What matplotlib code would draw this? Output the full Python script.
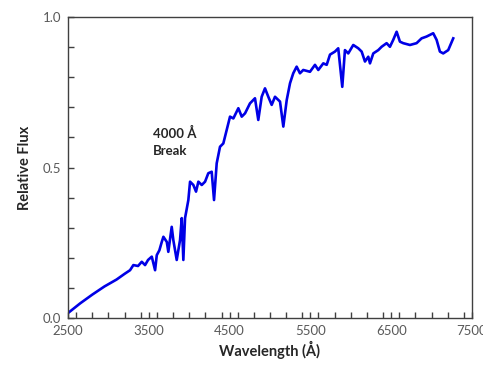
import matplotlib
matplotlib.use('Agg')
from matplotlib import pyplot as plt
from matplotlib.ticker import MultipleLocator

# spectrum (wavelength in Angstrom, relative flux)
wavelength = [2500, 2650, 2800, 2950, 3100, 3200, 3267, 3308, 3366, 3412,
              3453, 3490, 3536, 3577, 3598, 3630, 3660, 3680, 3722, 3741,
              3783, 3803, 3845, 3886, 3907, 3927, 3948, 3989, 4010, 4051,
              4084, 4113, 4155, 4196, 4236, 4278, 4307, 4340, 4381, 4422,
              4464, 4505, 4546, 4608, 4650, 4691, 4752, 4814, 4855, 4897,
              4938, 4979, 5021, 5062, 5124, 5165, 5207, 5248, 5288, 5330,
              5371, 5412, 5495, 5557, 5598, 5660, 5702, 5743, 5804, 5845,
              5895, 5928, 5969, 6031, 6093, 6135, 6176, 6217, 6238, 6279,
              6341, 6382, 6444, 6485, 6526, 6568, 6609, 6650, 6733, 6815,
              6877, 6939, 7021, 7063, 7104, 7145, 7207, 7269]
flux = [0.017, 0.049, 0.078, 0.105, 0.128, 0.147, 0.159, 0.176, 0.173, 0.187,
        0.176, 0.193, 0.204, 0.159, 0.209, 0.225, 0.253, 0.270, 0.253, 0.220,
        0.303, 0.259, 0.193, 0.259, 0.332, 0.193, 0.332, 0.392, 0.453, 0.442,
        0.420, 0.453, 0.442, 0.453, 0.481, 0.486, 0.392, 0.514, 0.569, 0.580,
        0.625, 0.669, 0.663, 0.697, 0.669, 0.680, 0.713, 0.730, 0.658, 0.735,
        0.763, 0.735, 0.708, 0.735, 0.719, 0.636, 0.724, 0.780, 0.813, 0.835,
        0.813, 0.824, 0.818, 0.841, 0.824, 0.846, 0.841, 0.875, 0.885, 0.896,
        0.768, 0.890, 0.879, 0.907, 0.896, 0.885, 0.852, 0.868, 0.846, 0.879,
        0.890, 0.901, 0.913, 0.901, 0.924, 0.951, 0.918, 0.913, 0.907, 0.913,
        0.929, 0.935, 0.946, 0.924, 0.885, 0.879, 0.890, 0.929]

x_ticks = [2500, 3500, 4500, 5500, 6500, 7500]
y_ticks = [0.0, 0.5, 1.0]

plt.rcParams['font.family'] = ['Lato', 'DejaVu Sans']

fig = plt.figure(figsize=(4.83, 3.69), dpi=100)
ax = fig.add_subplot(111)
fig.subplots_adjust(left=0.141, right=0.977, top=0.954, bottom=0.138)

ax.plot(wavelength, flux, color='#0000e6', linewidth=1.9)

ax.set_xlim(2500, 7500)
ax.set_ylim(0.0, 1.0)
ax.set_xticks(x_ticks)
ax.set_xticklabels([str(t) for t in x_ticks])
ax.set_yticks(y_ticks)
ax.set_yticklabels(['%.1f' % t for t in y_ticks])
ax.xaxis.set_minor_locator(MultipleLocator(200))
ax.yaxis.set_minor_locator(MultipleLocator(0.1))

ax.tick_params(which='both', direction='in', top=False, right=False,
               color='#404040', width=1.0)
ax.tick_params(which='major', length=4, labelsize=9.5, labelcolor='#595959', pad=5)
ax.tick_params(which='minor', length=4)
for s in ax.spines.values():
    s.set_color('#404040')
    s.set_linewidth(1.0)

ax.set_xlabel('Wavelength (Å)', fontsize=10.5, fontweight='bold', color='#262626', labelpad=3)
ax.set_ylabel('Relative Flux', fontsize=10.5, fontweight='bold', color='#262626', labelpad=8)

ax.text(3550, 0.635, '4000 Å\nBreak', fontsize=9.5, fontweight='bold', color='#262626',
        ha='left', va='top', linespacing=1.5)

plt.savefig('out.png', dpi=100)
